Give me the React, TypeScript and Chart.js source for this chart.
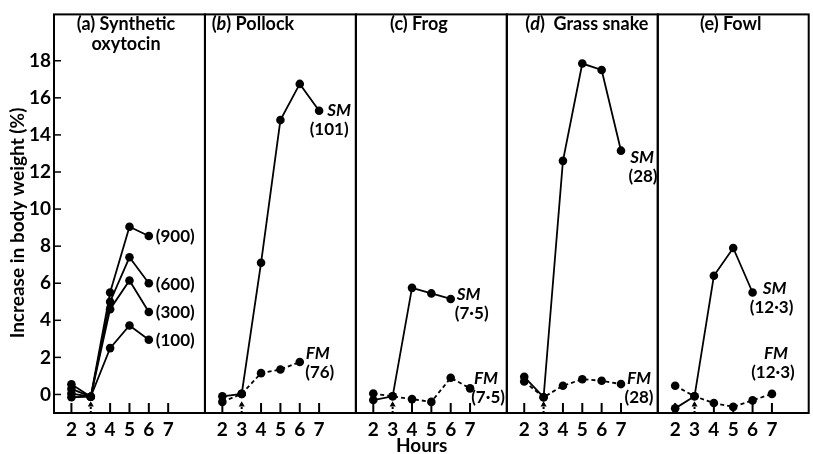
import React, { useEffect, useRef } from "react";
import { Chart, registerables } from "chart.js";

Chart.register(...registerables);

// ---------- data ----------
const hours = [2, 3, 4, 5, 6, 7];
const yTicks = [0, 2, 4, 6, 8, 10, 12, 14, 16, 18];
const injectionHour = 3;
const arrowLevel = -0.55;

// (a) Synthetic oxytocin (doses in brackets)
const oxy900 = [0.55, -0.12, 5.5, 9.05, 8.55];
const oxy600 = [0.3, -0.12, 5.0, 7.4, 6.0];
const oxy300 = [0.05, -0.12, 4.6, 6.15, 4.45];
const oxy100 = [-0.15, -0.12, 2.5, 3.72, 2.95];
// (b) Pollock
const pollockSM = [-0.1, 0.03, 7.1, 14.8, 16.75, 15.3];
const pollockFM = [-0.4, 0.03, 1.15, 1.35, 1.75];
// (c) Frog
const frogSM = [-0.3, -0.1, 5.75, 5.45, 5.15];
const frogFM = [0.05, -0.1, -0.25, -0.4, 0.9, 0.33];
// (d) Grass snake
const snakeSM = [0.95, -0.15, 12.6, 17.85, 17.5, 13.15];
const snakeFM = [0.7, -0.15, 0.47, 0.82, 0.74, 0.56];
// (e) Fowl
const fowlSM = [-0.75, -0.1, 6.4, 7.9, 5.5];
const fowlFM = [0.47, -0.1, -0.46, -0.67, -0.32, 0.03];

type Seg = { t: string; i?: boolean };
const panelTitles: Seg[][][] = [
  [[{ t: "(a) Synthetic" }], [{ t: "oxytocin" }]],
  [[{ t: "(" }, { t: "b", i: true }, { t: ") Pollock" }]],
  [[{ t: "(c) Frog" }]],
  [[{ t: "(" }, { t: "d", i: true }, { t: ")  Grass snake" }]],
  [[{ t: "(e) Fowl" }]],
];

const FONT = "Lato, 'Open Sans', sans-serif";

type Annot = { lines: Seg[][]; dx: number[]; dy: number; align?: "left" | "center" };

function pts(vals: number[]) {
  return vals.map((v, i) => ({ x: hours[i], y: v }));
}

function series(panel: number, vals: number[], dashed: boolean, annot: Annot) {
  return {
    type: "line" as const,
    xAxisID: "x" + panel,
    yAxisID: "y",
    data: pts(vals),
    borderColor: "#000",
    backgroundColor: "#000",
    borderWidth: 1.8,
    borderDash: dashed ? [4, 3] : [],
    pointRadius: 4.3,
    pointBackgroundColor: "#000",
    pointBorderWidth: 0,
    fill: false,
    tension: 0,
    annot,
  };
}

function arrow(panel: number) {
  return {
    type: "scatter" as const,
    xAxisID: "x" + panel,
    yAxisID: "y",
    data: [{ x: injectionHour, y: arrowLevel }],
    pointStyle: "triangle",
    pointRadius: 3.5,
    pointBackgroundColor: "#000",
    pointBorderColor: "#000",
    pointBorderWidth: 0,
    showLine: false,
  };
}

const one = (t: string): Annot => ({ lines: [[{ t }]], dx: [7], dy: 1, align: "left" });
const two = (name: string, dose: string, dx1: number, dx2: number, dy: number): Annot => ({
  lines: [[{ t: name, i: true }], [{ t: dose }]],
  dx: [dx1, dx2],
  dy,
  align: "center",
});

function drawRich(ctx: CanvasRenderingContext2D, segs: Seg[], x: number, y: number, size: number, align: "left" | "center") {
  const fontOf = (s: Seg) => `${s.i ? "italic " : ""}bold ${size}px ${FONT}`;
  let total = 0;
  for (const s of segs) {
    ctx.font = fontOf(s);
    total += ctx.measureText(s.t).width;
  }
  let cx = align === "center" ? x - total / 2 : x;
  ctx.textAlign = "left";
  for (const s of segs) {
    ctx.font = fontOf(s);
    ctx.fillText(s.t, cx, y);
    cx += ctx.measureText(s.t).width;
  }
}

const decor = {
  id: "decor",
  afterDraw(chart: any) {
    const { ctx, chartArea } = chart;
    const { top, bottom, left } = chartArea;
    ctx.save();
    ctx.strokeStyle = "#000";
    ctx.fillStyle = "#000";
    const titleCx = [72, 48, 63, 80, 73];
    for (let p = 0; p < 5; p++) {
      const s = chart.scales["x" + p];
      ctx.lineWidth = 2;
      ctx.setLineDash([]);
      ctx.strokeRect(s.left, top, s.right - s.left, bottom - top);
      for (const h of hours) {
        const px = s.getPixelForValue(h);
        ctx.beginPath();
        ctx.lineWidth = 2;
        ctx.setLineDash(h === injectionHour ? [2, 2] : []);
        ctx.moveTo(px, bottom);
        ctx.lineTo(px, bottom - 10);
        ctx.stroke();
      }
      ctx.setLineDash([]);
      ctx.textBaseline = "alphabetic";
      panelTitles[p].forEach((segs, li) => {
        drawRich(ctx, segs, s.left + titleCx[p], 30 + li * 20, 18, "center");
      });
    }
    // y tick marks (inward)
    const ys = chart.scales.y;
    ctx.lineWidth = 1.5;
    for (const v of yTicks) {
      const py = ys.getPixelForValue(v);
      ctx.beginPath();
      ctx.moveTo(left, py);
      ctx.lineTo(left + 7, py);
      ctx.stroke();
    }
    // series annotations
    chart.data.datasets.forEach((ds: any, di: number) => {
      if (!ds.annot) return;
      const meta = chart.getDatasetMeta(di);
      const last = meta.data[meta.data.length - 1];
      const a: Annot = ds.annot;
      ctx.textBaseline = "middle";
      a.lines.forEach((segs, li) => {
        drawRich(ctx, segs, last.x + a.dx[li], last.y + a.dy + li * 19, 17, a.align || "center");
      });
    });
    // axis titles
    ctx.font = `bold 19px ${FONT}`;
    ctx.textAlign = "center";
    ctx.textBaseline = "middle";
    ctx.save();
    ctx.translate(18, 223);
    ctx.rotate(-Math.PI / 2);
    ctx.fillText("Increase in body weight (%)", 0, 0);
    ctx.restore();
    const xc = chart.scales.x2;
    ctx.fillText("Hours", xc.getPixelForValue(4.5), 446);
    ctx.restore();
  },
};

export default function App() {
  const ref = useRef<HTMLCanvasElement | null>(null);
  useEffect(() => {
    document.body.style.margin = "0";
    if (!ref.current) return;
    const tickFont = { family: FONT, size: 19, weight: "bold" as const };
    const scales: any = {
      y: {
        type: "linear",
        position: "left",
        min: -1,
        max: 20.5,
        grid: { display: false, drawTicks: false },
        border: { display: false },
        ticks: { font: tickFont, color: "#000", padding: 3 },
        afterBuildTicks: (s: any) => {
          s.ticks = yTicks.map((v) => ({ value: v }));
        },
        afterFit: (s: any) => {
          s.width = 54;
        },
      },
    };
    for (let p = 0; p < 5; p++) {
      scales["x" + p] = {
        type: "linear",
        position: "bottom",
        stack: "panels",
        stackWeight: 1,
        min: 1.1,
        max: 8.9,
        offset: false,
        grid: { display: false, drawTicks: false },
        border: { display: false },
        ticks: { font: tickFont, color: "#000", padding: 5, autoSkip: false, maxRotation: 0 },
        afterBuildTicks: (s: any) => {
          s.ticks = hours.map((h) => ({ value: h }));
        },
        afterFit: (s: any) => {
          s.height = 41;
        },
      };
    }
    const datasets: any[] = [
      series(0, oxy900, false, one("(900)")),
      series(0, oxy600, false, one("(600)")),
      series(0, oxy300, false, one("(300)")),
      series(0, oxy100, false, one("(100)")),
      series(1, pollockSM, false, two("SM", "(101)", 20, 10, 0)),
      series(1, pollockFM, true, two("FM", "(76)", 18, 20, -9)),
      series(2, frogSM, false, two("SM", "(7·5)", 18, 21, -4)),
      series(2, frogFM, true, two("FM", "(7·5)", 16, 18, -10)),
      series(3, snakeSM, false, two("SM", "(28)", 21, 22, 7)),
      series(3, snakeFM, true, two("FM", "(28)", 18, 18, -6)),
      series(4, fowlSM, false, two("SM", "(12·3)", 22, 19, -4)),
      series(4, fowlFM, true, two("FM", "(12·3)", 4, 1, -40)),
      arrow(0),
      arrow(1),
      arrow(2),
      arrow(3),
      arrow(4),
    ];
    const chart = new Chart(ref.current, {
      type: "line",
      data: { datasets },
      options: {
        responsive: false,
        animation: false,
        layout: { padding: { top: 5, right: 1, left: 0, bottom: 0 } },
        plugins: { legend: { display: false }, tooltip: { enabled: false } },
        scales,
      },
      plugins: [decor],
    } as any);
    return () => chart.destroy();
  }, []);
  return (
    <div style={{ width: 813, height: 454, background: "#fff" }}>
      <canvas ref={ref} width={813} height={454} style={{ display: "block" }} />
    </div>
  );
}
